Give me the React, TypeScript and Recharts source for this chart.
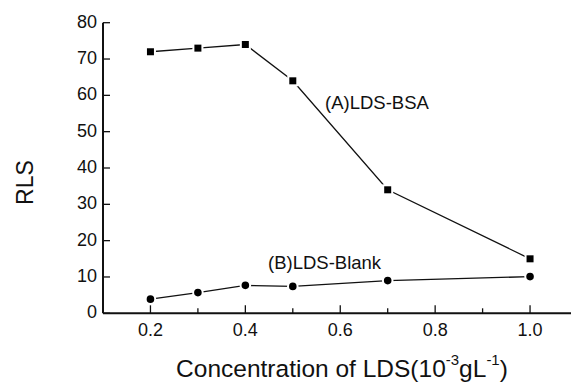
import React from 'react';
import { LineChart, Line, XAxis, YAxis } from 'recharts';

const concentrations = [0.2, 0.3, 0.4, 0.5, 0.7, 1.0];
const bsaValues = [72, 73, 74, 64, 34, 15];
const blankValues = [3.9, 5.7, 7.7, 7.4, 9.0, 10.1];
const xTicks = [0.2, 0.3, 0.4, 0.5, 0.6, 0.7, 0.8, 0.9, 1.0];
const xMajorTicks = [0.2, 0.4, 0.6, 0.8, 1.0];
const yTicks = [0, 10, 20, 30, 40, 50, 60, 70, 80];

const data = concentrations.map((c, i) => ({ c, bsa: bsaValues[i], blank: blankValues[i] }));

const FONT = '"Liberation Sans", Arial, sans-serif';
const INK = '#111';

const XTick = (props: any) => {
  const { x, y, payload } = props;
  const v = Math.round(payload.value * 10) / 10;
  const major = xMajorTicks.some((m) => Math.abs(m - v) < 1e-6);
  return (
    <g>
      <line x1={x} x2={x} y1={y} y2={y - (major ? 8 : 5)} stroke={INK} strokeWidth={1.3} />
      {major && (
        <text x={x} y={y + 17} textAnchor="middle" dominantBaseline="central" fontSize={18} fontFamily={FONT} fill={INK}>
          {v.toFixed(1)}
        </text>
      )}
    </g>
  );
};

const YTick = (props: any) => {
  const { x, y, payload } = props;
  return (
    <g>
      <line x1={x} x2={x + 7} y1={y} y2={y} stroke={INK} strokeWidth={1.3} />
      <text x={x - 6} y={y - 1} textAnchor="end" dominantBaseline="central" fontSize={18} fontFamily={FONT} fill={INK}>
        {payload.value}
      </text>
    </g>
  );
};

const SquareDot = (props: any) => {
  const { cx, cy } = props;
  if (cx == null || cy == null) return null;
  return <rect x={cx - 4.5} y={cy - 4.5} width={9} height={9} fill="#000" stroke="#fff" strokeWidth={2} />;
};

const CircleDot = (props: any) => {
  const { cx, cy } = props;
  if (cx == null || cy == null) return null;
  return <circle cx={cx} cy={cy} r={4.8} fill="#000" stroke="#fff" strokeWidth={2} />;
};

export default function App() {
  return (
    <div style={{ position: 'absolute', left: 0, top: 0, width: 571, height: 383, overflow: 'hidden', background: '#fff' }}>
      <LineChart
        width={600}
        height={383}
        data={data}
        margin={{ top: 22.7, right: 22.5, bottom: 0, left: 0 }}
      >
        <XAxis
          dataKey="c"
          type="number"
          domain={[0.1, 1.1]}
          ticks={xTicks}
          interval={0}
          tick={<XTick />}
          tickLine={false}
          tickSize={0}
          tickMargin={0}
          height={69.7}
          axisLine={{ stroke: INK, strokeWidth: 2 }}
          label={{
            content: () => (
              <text x={342} y={368} textAnchor="middle" dominantBaseline="central" fontSize={24.5} fontFamily={FONT} fill={INK}>
                Concentration of LDS(10
                <tspan fontSize={15} dy={-9}>-3</tspan>
                <tspan dy={9}>gL</tspan>
                <tspan fontSize={15} dy={-9}>-1</tspan>
                <tspan dy={9}>)</tspan>
              </text>
            ),
          }}
        />
        <YAxis
          type="number"
          domain={[0, 80]}
          ticks={yTicks}
          interval={0}
          width={103}
          tick={<YTick />}
          tickLine={false}
          tickSize={0}
          tickMargin={0}
          axisLine={{ stroke: INK, strokeWidth: 2 }}
          label={{
            content: () => (
              <text x={25} y={182.5} transform="rotate(-90 25 182.5)" textAnchor="middle" dominantBaseline="central" fontSize={23} fontFamily={FONT} fill={INK}>
                RLS
              </text>
            ),
          }}
        />
        <Line
          dataKey="bsa"
          stroke={INK}
          strokeWidth={1.3}
          dot={<SquareDot />}
          isAnimationActive={false}
        />
        <Line
          dataKey="blank"
          stroke={INK}
          strokeWidth={1.3}
          dot={<CircleDot />}
          isAnimationActive={false}
        />
        <text x={325} y={102} dominantBaseline="central" fontSize={18.5} fontFamily={FONT} fill={INK}>(A)LDS-BSA</text>
        <text x={268} y={262} dominantBaseline="central" fontSize={18.5} fontFamily={FONT} fill={INK}>(B)LDS-Blank</text>
      </LineChart>
    </div>
  );
}
